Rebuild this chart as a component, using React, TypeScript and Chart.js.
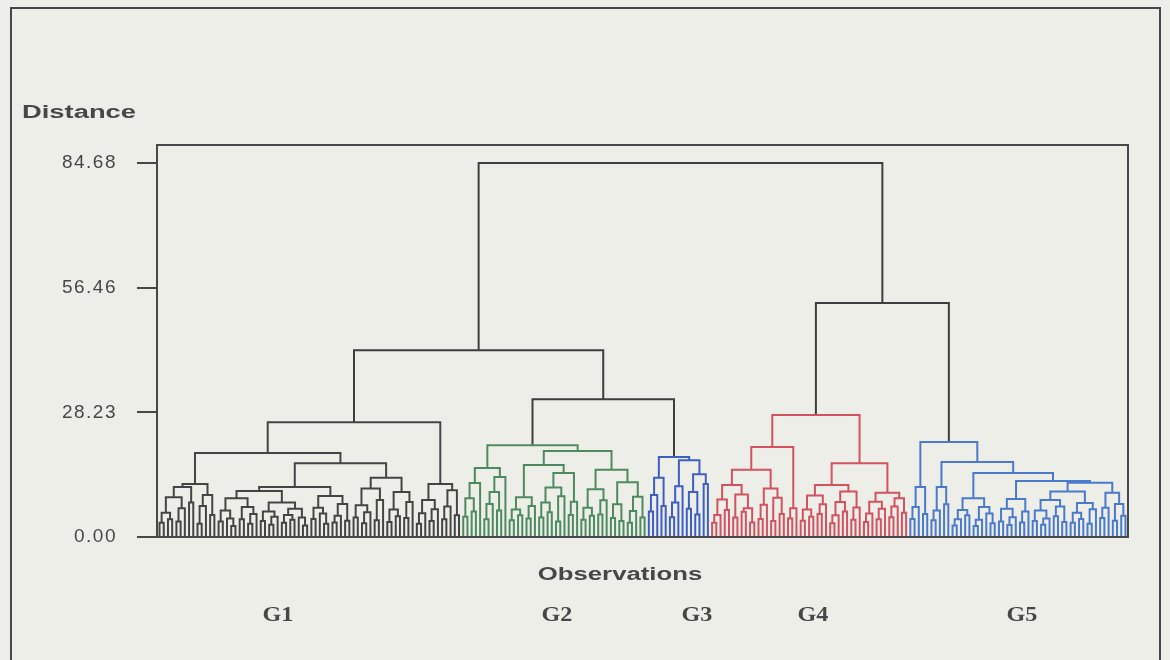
import React, { useEffect, useRef } from "react";
import { Chart, registerables } from "chart.js";

Chart.register(...registerables);

// ---------- data ----------
// internal node = [mergeDistance, left, right]; leaf = 0; group reference = "Gx"
const G1_TREE: any = [26.0,
  [19.0,
    [12.0,
      [11.3, [9.0, [5.5, [3.2, 0, 0], [4.0, 0, 0]], [6.5, [3.5, 0, 0], 0]], [7.8, 0, 0]],
      [9.5, [7.0, [3.0, 0, 0], 0], [5.0, 0, 0]]],
    [16.7,
      [11.3,
        [10.4,
          [8.8, [6.0, [3.5, 0, 0], [4.2, 0, [2.5, 0, 0]]], [6.8, [4.0, 0, 0], [5.2, [3.0, 0, 0], 0]]],
          [7.8, [5.8, [3.6, 0, 0], [4.6, [2.8, 0, 0], 0]], [6.4, [5.0, [3.2, 0, 0], [3.9, 0, 0]], [4.4, 0, [2.6, 0, 0]]]]],
        [9.3, [6.6, [4.1, 0, 0], [5.3, 0, [3.0, 0, 0]]], [7.5, [4.8, [3.3, 0, 0], 0], [3.7, 0, 0]]]],
      [13.4,
        [11.0, [7.2, [4.4, 0, 0], [5.6, [3.1, 0, 0], 0]], [8.4, [3.8, 0, 0], 0]],
        [10.2, [6.2, [3.4, 0, 0], [4.7, 0, 0]], [7.9, [4.3, 0, 0], 0]]]]],
  [12.0,
    [8.4, [5.4, [3.0, 0, 0], 0], [6.3, [3.6, 0, 0], 0]],
    [10.6, [6.9, [4.0, 0, 0], 0], [4.9, 0, 0]]]];

const G2_TREE: any = [20.8,
  [15.6,
    [12.2, [8.8, [4.6, 0, 0], [5.8, 0, 0]], 0],
    [13.6, [10.2, [7.5, [4.0, 0, 0], 0], [6.0, 0, 0]], 0]],
  [19.5,
    [16.3, [9.0, [6.2, [3.8, 0, 0], [4.9, 0, 0]], [7.0, [4.2, 0, 0], 0]],
      [14.5, [11.2, [7.8, [4.4, 0, 0], [5.6, 0, 0]], [9.2, [3.5, 0, 0], 0]], [8.0, [5.0, 0, 0], 0]]],
    [15.2, [10.8, [6.6, [3.9, 0, 0], [4.8, 0, 0]], [8.3, [5.1, 0, 0], 0]],
      [12.4, [7.4, [4.3, 0, 0], [3.6, 0, 0]], [9.1, [5.9, [3.2, 0, 0], 0], [4.4, 0, 0]]]]]];

const G3_TREE: any = [18.1,
  [13.4, [9.5, [5.8, 0, 0], 0], [7.0, 0, 0]],
  [17.4, [11.5, [7.8, [4.5, 0, 0], 0], 0], [14.2, [10.2, [6.4, 0, 0], [5.1, 0, 0]], [12.0, 0, 0]]]];

const G4_TREE: any = [27.6,
  [20.4,
    [15.2,
      [11.8, [8.5, [5.0, [3.2, 0, 0], 0], [6.1, 0, 0]], [9.6, [4.4, 0, 0], [6.5, [5.7, 0, 0], [3.3, 0, 0]]]],
      [11.0, [7.3, [4.1, 0, 0], 0], [8.9, [3.6, 0, 0], [5.2, 0, 0]]]],
    [6.5, [4.2, 0, 0], 0]],
  [16.7,
    [11.8, [9.4, [6.2, [3.7, 0, 0], [4.6, 0, 0]], [7.4, [5.2, 0, 0], 0]],
      [10.3, [7.9, [4.9, [3.1, 0, 0], 0], [5.8, 0, 0]], [6.7, [3.9, 0, 0], 0]]],
    [10.0, [8.0, [5.3, [3.4, 0, 0], 0], [6.4, [4.0, 0, 0], 0]],
      [8.8, [6.9, [4.5, 0, 0], 0], [5.5, 0, 0]]]]];

const G5_TREE: any = [21.5,
  [11.3, [6.8, [4.1, 0, 0], 0], [5.2, 0, 0]],
  [17.0,
    [11.3, [6.0, [3.8, 0, 0], 0], [7.4, 0, 0]],
    [14.5,
      [8.8, [6.1, [4.0, [2.6, 0, 0], 0], [4.9, 0, 0]], [6.8, [3.9, [2.5, 0, 0], 0], [5.3, 0, [3.1, 0, 0]]]],
      [12.7,
        [8.6, [6.4, [3.5, 0, 0], [4.5, [2.7, 0, 0], 0]], [5.8, [3.3, 0, 0], 0]],
        [12.3,
          [10.3, [8.4, [6.0, [3.6, 0, 0], [4.2, [2.8, 0, 0], 0]], [6.9, [4.7, 0, 0], [3.4, 0, 0]]],
            [7.7, [5.5, [3.2, 0, 0], [4.1, 0, 0]], [6.3, [3.0, 0, 0], 0]]],
          [10.0, [6.6, [4.3, 0, 0], 0], [7.5, [3.7, 0, 0], [4.8, 0, 0]]]]]]]];

const TOP_TREE: any = [84.68, [42.3, "G1", [31.2, "G2", "G3"]], [53.0, "G4", "G5"]];

const GROUP_NAMES = ["G1", "G2", "G3", "G4", "G5"];
const GROUP_TREES = [G1_TREE, G2_TREE, G3_TREE, G4_TREE, G5_TREE];
const Y_TICKS = [0, 28.23, 56.46, 84.68];
const Y_LABEL = "Distance";
const X_LABEL = "Observations";

// ---------- styles ----------
const BG = "#eeeee9";
const INK = "#474747";
const TOP_COLOR = "#3e3e3e";
const GROUP_COLORS = ["#444444", "#4e8a5f", "#3d5fc3", "#d2525f", "#4a7acb"];
const GROUP_LABEL_X = [278, 557, 697, 813, 1022];

function buildSegments() {
  const sets: Record<string, { x: number; y: number | null }[]> = { top: [] };
  GROUP_NAMES.forEach((g) => (sets[g] = []));
  let leaf = 0;
  const walk = (n: any, key: string): { x: number; h: number } => {
    if (typeof n === "number") return { x: leaf++, h: 0 };
    if (typeof n === "string") {
      const gi = GROUP_NAMES.indexOf(n);
      return walk(GROUP_TREES[gi], n);
    }
    const [h, a, b] = n;
    const ra = walk(a, key);
    const rb = walk(b, key);
    const arr = sets[key];
    arr.push({ x: ra.x, y: ra.h }, { x: ra.x, y: h }, { x: rb.x, y: h }, { x: rb.x, y: rb.h }, { x: rb.x, y: null });
    return { x: (ra.x + rb.x) / 2, h };
  };
  walk(TOP_TREE, "top");
  return { sets, leaves: leaf };
}

function drawText(ctx: CanvasRenderingContext2D, text: string, x: number, y: number, font: string, sx: number, align: CanvasTextAlign) {
  ctx.save();
  ctx.font = font;
  ctx.fillStyle = INK;
  ctx.textAlign = align;
  ctx.textBaseline = "alphabetic";
  ctx.translate(x, y);
  ctx.scale(sx, 1);
  ctx.fillText(text, 0, 0);
  ctx.restore();
}

const decorPlugin = {
  id: "decor",
  beforeDraw(chart: any) {
    const ctx = chart.ctx;
    ctx.save();
    ctx.fillStyle = BG;
    ctx.fillRect(0, 0, chart.width, chart.height);
    ctx.restore();
    (ctx as any).letterSpacing = "1.5px";
  },
  afterDraw(chart: any) {
    const ctx: CanvasRenderingContext2D = chart.ctx;
    (ctx as any).letterSpacing = "0px";
    const { left, top, right, bottom } = chart.chartArea;
    ctx.save();
    ctx.strokeStyle = INK;
    ctx.lineWidth = 2;
    ctx.strokeRect(left, top, right - left, bottom - top);
    ctx.strokeRect(11, 8, 1149, 700);
    ctx.restore();
    const sans = '"Liberation Sans", Arial, sans-serif';
    drawText(ctx, Y_LABEL, 22, 118, `bold 18px ${sans}`, 1.52, "left");
    drawText(ctx, X_LABEL, 620, 580, `bold 18px ${sans}`, 1.43, "center");
    GROUP_NAMES.forEach((g, i) =>
      drawText(ctx, g, GROUP_LABEL_X[i], 621, 'bold 21px "Liberation Serif", "Times New Roman", serif', 1.15, "center")
    );
  },
};

export default function App() {
  const ref = useRef<HTMLCanvasElement>(null);
  useEffect(() => {
    document.body.style.margin = "0";
    document.body.style.background = BG;
    const { sets, leaves } = buildSegments();
    const keys = ["G1", "G2", "G3", "G4", "G5", "top"];
    const datasets = keys.map((k) => ({
      label: k,
      data: sets[k],
      borderColor: k === "top" ? TOP_COLOR : GROUP_COLORS[GROUP_NAMES.indexOf(k)],
      borderWidth: 2,
      pointRadius: 0,
      pointHitRadius: 0,
      tension: 0,
      spanGaps: false,
      fill: false,
    }));
    const chart = new Chart(ref.current as HTMLCanvasElement, {
      type: "line",
      data: { datasets } as any,
      options: {
        responsive: false,
        animation: false,
        devicePixelRatio: 1,
        events: [],
        layout: { padding: { top: 145, right: 42, bottom: 123, left: 0 } },
        plugins: { legend: { display: false }, tooltip: { enabled: false } },
        scales: {
          x: { type: "linear", min: -0.6, max: leaves - 1 + 0.6, display: false },
          y: {
            type: "linear",
            min: 0,
            max: 88.76,
            afterBuildTicks: (scale: any) => {
              scale.ticks = Y_TICKS.map((v) => ({ value: v }));
            },
            afterFit: (scale: any) => {
              scale.width = 157;
            },
            grid: { display: true, drawOnChartArea: false, drawTicks: true, tickLength: 20, color: INK, lineWidth: 2 },
            border: { display: true, color: INK, width: 2 },
            ticks: {
              padding: 20,
              color: INK,
              font: { family: '"Liberation Sans", Arial, sans-serif', size: 19 },
              callback: (v: any) => Number(v).toFixed(2),
            },
          },
        },
      } as any,
      plugins: [decorPlugin],
    });
    return () => chart.destroy();
  }, []);
  return (
    <div style={{ width: 1170, height: 660, position: "relative", background: BG }}>
      <canvas ref={ref} width={1170} height={660} style={{ display: "block", width: 1170, height: 660 }} />
    </div>
  );
}
